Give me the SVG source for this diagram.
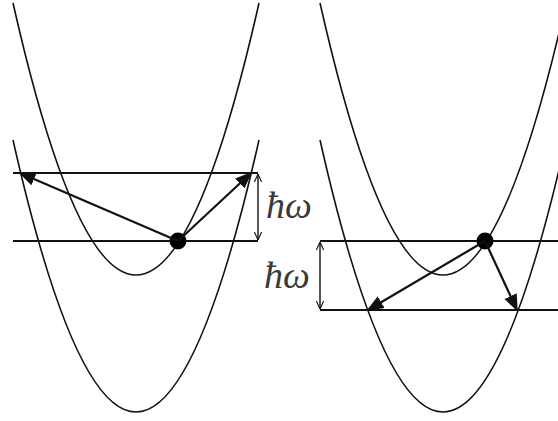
<svg xmlns="http://www.w3.org/2000/svg" width="558" height="421" viewBox="0 0 558 421">
<defs>
<style>
.curve{fill:none;stroke:#111;stroke-width:1.6}
.level{fill:none;stroke:#111;stroke-width:1.8}
.arrow{fill:none;stroke:#111;stroke-width:2.2}
.dim{fill:none;stroke:#111;stroke-width:1.4}
.lbl{font-family:"Liberation Serif",serif;font-style:italic;font-size:38px;fill:#3a3a3a}
</style>
<marker id="ah" viewBox="0 0 10 10" refX="9" refY="5" markerWidth="17" markerHeight="17" markerUnits="userSpaceOnUse" orient="auto">
<path d="M0,1 L10,5 L0,9 Z" fill="#111"/>
</marker>
<marker id="oh" viewBox="0 0 10 10" refX="10" refY="5" markerWidth="8" markerHeight="10" markerUnits="userSpaceOnUse" orient="auto-start-reverse">
<path d="M0,0.5 L10,5 L0,9.5" fill="none" stroke="#111" stroke-width="1.4"/>
</marker>
</defs>
<rect width="558" height="421" fill="#fff"/>
<g id="left-panel">
<g id="left-upper-curve"><path class="curve" d="M13,3 Q136,547 259,3"/></g>
<g id="left-lower-curve"><path class="curve" d="M13,140 Q136,684 259,140"/></g>
<g id="left-level-top"><line class="level" x1="13" y1="173" x2="258" y2="173"/></g>
<g id="left-level-bottom"><line class="level" x1="13" y1="241" x2="258" y2="241"/></g>
<g id="left-dot"><circle cx="178" cy="241" r="8.5" fill="#000"/></g>
<g id="left-label"><text class="lbl" x="266" y="218">ħω</text></g>
</g>
<g id="right-panel">
<g id="right-upper-curve"><path class="curve" d="M320,3 Q443,547 566,3"/></g>
<g id="right-lower-curve"><path class="curve" d="M320,140 Q443,684 566,140"/></g>
<g id="right-level-top"><line class="level" x1="320" y1="241" x2="558" y2="241"/></g>
<g id="right-level-bottom"><line class="level" x1="320" y1="310" x2="558" y2="310"/></g>
<g id="right-dot"><circle cx="485" cy="241" r="8.5" fill="#000"/></g>
<g id="right-label"><text class="lbl" x="264" y="288">ħω</text></g>
</g>
<g id="connectors">
<line class="arrow" x1="178" y1="241" x2="20" y2="173" marker-end="url(#ah)"/>
<line class="arrow" x1="178" y1="241" x2="251" y2="173" marker-end="url(#ah)"/>
<line class="arrow" x1="485" y1="241" x2="368" y2="310" marker-end="url(#ah)"/>
<line class="arrow" x1="485" y1="241" x2="517" y2="310" marker-end="url(#ah)"/>
<line class="dim" x1="258" y1="174" x2="258" y2="240" marker-start="url(#oh)" marker-end="url(#oh)"/>
<line class="dim" x1="320" y1="242" x2="320" y2="309" marker-start="url(#oh)" marker-end="url(#oh)"/>
</g>
</svg>
